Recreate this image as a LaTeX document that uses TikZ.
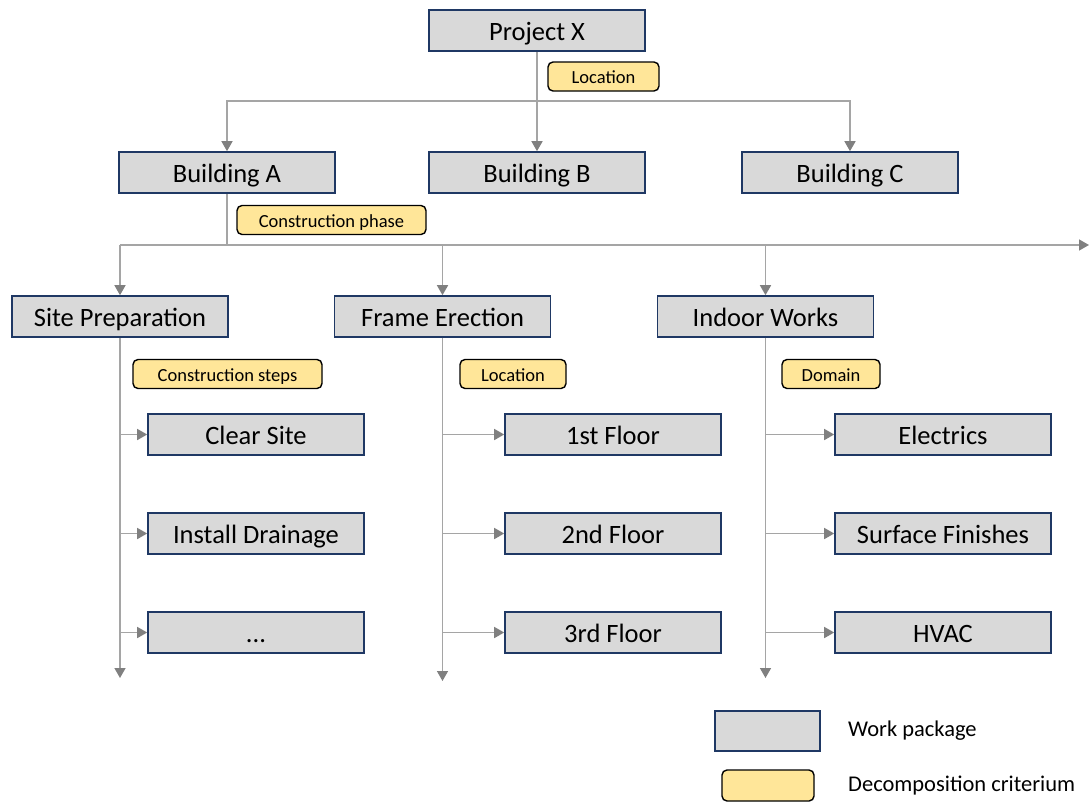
\documentclass[tikz,border=0pt]{standalone}
\usepackage{fontspec}
\setmainfont{Carlito}
\usetikzlibrary{arrows.meta}
\definecolor{boxfill}{RGB}{217,217,217}
\definecolor{boxline}{RGB}{31,56,100}
\definecolor{critfill}{RGB}{255,230,153}
\definecolor{connline}{RGB}{165,165,165}
\definecolor{tipcol}{RGB}{128,128,128}
\tikzset{
  wp/.style={draw=boxline, line width=1.6pt, fill=boxfill, minimum width=216pt, minimum height=41pt, inner sep=0pt, text height=21pt, text depth=2pt, font=\fontsize{26.5}{30}\selectfont},
  crit/.style={draw=black, line width=1.4pt, fill=critfill, rounded corners=5pt, minimum height=29pt, inner sep=0pt, text height=16pt, text depth=2pt, font=\fontsize{18.5}{22}\selectfont},
  conn/.style={draw=connline, line width=1.5pt},
  arr/.style={conn, -{Triangle[length=10pt,width=11pt,color=tipcol]}},
  legtext/.style={anchor=west, inner sep=0pt, font=\fontsize{22.5}{26}\selectfont}
}
\begin{document}
\begin{tikzpicture}[x=1pt,y=-1pt]
\useasboundingbox (0,0) rectangle (1089,803);
% top level
\node[wp] (px) at (537,30.5) {Project X};
\node[crit, minimum width=111pt] (c1) at (603.5,76.5) {Location};
\node[wp] (bA) at (227,172.5) {Building A};
\node[wp] (bB) at (537,172.5) {Building B};
\node[wp] (bC) at (850,172.5) {Building C};
\coordinate (j1) at (537,101);
\draw[arr] (px.south) -- (bB.north);
\draw[arr] (j1) -| (bA.north);
\draw[arr] (j1) -| (bC.north);
% second level
\node[crit, minimum width=189pt] (c2) at (331.5,220) {Construction phase};
\node[wp] (sp) at (120,316.5) {Site Preparation};
\node[wp] (fe) at (442.5,316.5) {Frame Erection};
\node[wp] (iw) at (765.5,316.5) {Indoor Works};
\coordinate (j2) at (227,245);
\coordinate (j2l) at (120,245);
\coordinate (j2r) at (1089,245);
\draw[conn] (bA.south) -- (j2);
\draw[arr] (j2l) -- (j2r);
\draw[arr] (j2l) -- (sp.north);
\draw[arr] (fe.north |- j2) -- (fe.north);
\draw[arr] (iw.north |- j2) -- (iw.north);
% criteria
\node[crit, minimum width=189pt] (c3) at (227.5,374) {Construction steps};
\node[crit, minimum width=106pt] (c4) at (513,374) {Location};
\node[crit, minimum width=98pt] (c5) at (831,374) {Domain};
% children
\node[wp] (s1) at (256,434.5) {Clear Site};
\node[wp] (s2) at (256,533.5) {Install Drainage};
\node[wp] (s3) at (256,632.5) {...};
\node[wp] (f1) at (613,434.5) {1st Floor};
\node[wp] (f2) at (613,533.5) {2nd Floor};
\node[wp] (f3) at (613,632.5) {3rd Floor};
\node[wp] (i1) at (943,434.5) {Electrics};
\node[wp] (i2) at (943,533.5) {Surface Finishes};
\node[wp] (i3) at (943,632.5) {HVAC};
\coordinate (e1) at (120,678);
\coordinate (e2) at (442.5,681);
\coordinate (e3) at (765.5,678);
\draw[arr] (sp.south) -- (e1);
\draw[arr] (fe.south) -- (e2);
\draw[arr] (iw.south) -- (e3);
\foreach \n in {s1,s2,s3}{\draw[arr] (sp.south |- \n.west) -- (\n.west);}
\foreach \n in {f1,f2,f3}{\draw[arr] (fe.south |- \n.west) -- (\n.west);}
\foreach \n in {i1,i2,i3}{\draw[arr] (iw.south |- \n.west) -- (\n.west);}
% legend
\node[wp, minimum width=105pt, minimum height=40pt] (lwp) at (767.5,731) {};
\node[crit, minimum width=92pt, minimum height=31pt] (lcr) at (768,785.5) {};
\node[legtext] (twp) at (848,731) {Work package};
\node[legtext] (tcr) at (848,786) {Decomposition criterium};
\end{tikzpicture}
\end{document}
